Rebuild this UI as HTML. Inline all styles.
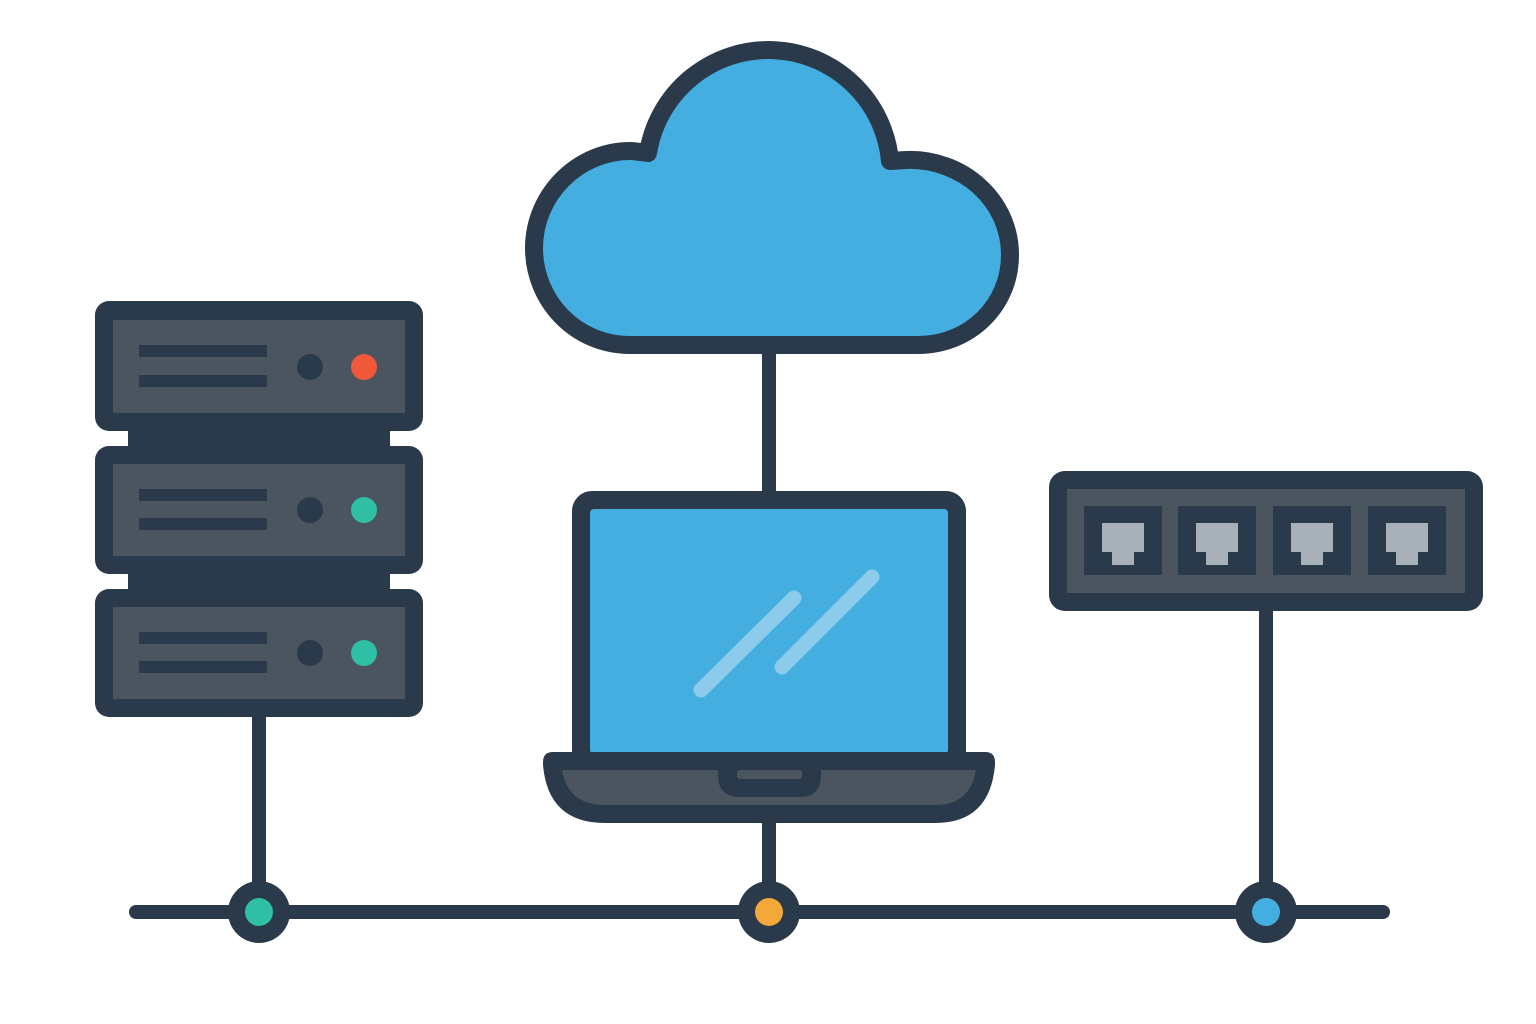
<!DOCTYPE html>
<html><head><meta charset="utf-8"><style>html,body{margin:0;padding:0;background:#fff}svg{display:block}</style></head>
<body>
<svg width="1536" height="1024" viewBox="0 0 1536 1024" xmlns="http://www.w3.org/2000/svg">
<g stroke="#2b3a4a" stroke-linecap="round" stroke-width="14" fill="none">
<line x1="136" y1="912" x2="1383" y2="912"/>
<line x1="259" y1="710" x2="259" y2="890"/>
<line x1="769" y1="815" x2="769" y2="890"/>
<line x1="1266" y1="605" x2="1266" y2="890"/>
<line x1="769" y1="340" x2="769" y2="500"/>
</g>
<!-- cloud -->
<path d="M630 345 C575 345 534 300 534 248 C534 195 578 150 632 151 L648 153 A122 122 0 0 1 890 161 L906 160 C962 158 1010 200 1010 255 C1010 305 970 345 918 345 Z" fill="#44aee0" stroke="#2b3a4a" stroke-width="18" stroke-linejoin="round"/>
<!-- server -->
<g>
<rect x="128" y="420" width="262" height="40" fill="#2b3a4a"/>
<rect x="128" y="565" width="262" height="40" fill="#2b3a4a"/>
<rect x="95" y="301" width="328" height="130" rx="14" fill="#2b3a4a"/>
<rect x="95" y="446" width="328" height="128" rx="14" fill="#2b3a4a"/>
<rect x="95" y="589" width="328" height="128" rx="14" fill="#2b3a4a"/>
<rect x="113" y="320" width="292" height="93" fill="#4a5560"/>
<rect x="113" y="464" width="292" height="92" fill="#4a5560"/>
<rect x="113" y="607" width="292" height="92" fill="#4a5560"/>
<g fill="#2b3a4a">
<rect x="139" y="345" width="128" height="12"/><rect x="139" y="375" width="128" height="12"/>
<rect x="139" y="489" width="128" height="12"/><rect x="139" y="518" width="128" height="12"/>
<rect x="139" y="632" width="128" height="12"/><rect x="139" y="661" width="128" height="12"/>
<circle cx="310" cy="367" r="13"/><circle cx="310" cy="510" r="13"/><circle cx="310" cy="653" r="13"/>
</g>
<circle cx="364" cy="367" r="13" fill="#f0583a"/>
<circle cx="364" cy="510" r="13" fill="#2fbfa5"/>
<circle cx="364" cy="653" r="13" fill="#2fbfa5"/>
</g>
<!-- laptop -->
<rect x="572" y="491" width="394" height="280" rx="20" fill="#2b3a4a"/>
<rect x="590" y="509" width="358" height="245" rx="4" fill="#44aee0"/>
<g stroke="#8ccbea" stroke-width="15" stroke-linecap="round">
<line x1="701" y1="690" x2="794" y2="598"/>
<line x1="782" y1="667" x2="872" y2="577"/>
</g>
<path d="M553 752 H985 Q995 752 995 762 V765 Q990 823 935 823 H605 Q548 823 543 765 V762 Q543 752 553 752 Z" fill="#2b3a4a"/>
<path d="M562 770 H976 Q970 805 935 805 H605 Q568 805 562 770 Z" fill="#4a5560"/>
<path d="M718 765 H821 V775 Q821 797 800 797 H740 Q718 797 718 775 Z" fill="#2b3a4a"/>
<rect x="737" y="770" width="65" height="9" rx="3" fill="#4a5560"/>
<!-- switch -->
<rect x="1049" y="471" width="434" height="140" rx="16" fill="#2b3a4a"/>
<rect x="1067" y="489" width="398" height="104" fill="#4a5560"/>
<g fill="#2b3a4a">
<rect x="1084" y="506" width="78" height="69"/><rect x="1178" y="506" width="78" height="69"/>
<rect x="1273" y="506" width="78" height="69"/><rect x="1368" y="506" width="78" height="69"/>
</g>
<g fill="#a9b1b8">
<path d="M1102 523 h42 v29 h-10 v13 h-22 v-13 h-10 z"/>
<path d="M1196 523 h42 v29 h-10 v13 h-22 v-13 h-10 z"/>
<path d="M1291 523 h42 v29 h-10 v13 h-22 v-13 h-10 z"/>
<path d="M1386 523 h42 v29 h-10 v13 h-22 v-13 h-10 z"/>
</g>
<!-- nodes -->
<g fill="#2b3a4a"><circle cx="259" cy="912" r="31"/><circle cx="769" cy="912" r="31"/><circle cx="1266" cy="912" r="31"/></g>
<circle cx="259" cy="912" r="14" fill="#2fbfa5"/>
<circle cx="769" cy="912" r="14" fill="#f5a83a"/>
<circle cx="1266" cy="912" r="14" fill="#44aee0"/>
</svg>
</body></html>
